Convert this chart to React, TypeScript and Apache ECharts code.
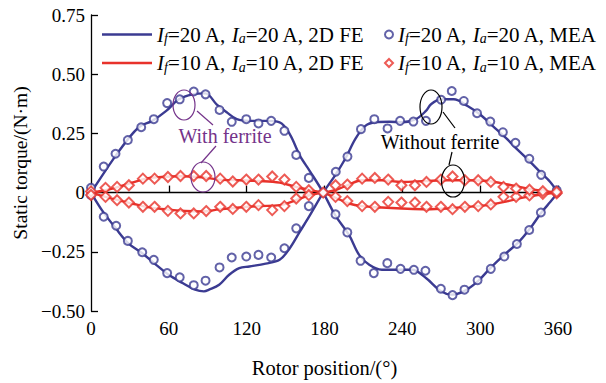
import React, { useEffect, useRef } from "react";
import * as echarts from "echarts";

// ---- Data ----
// 2D FE, If=20 A, Ia=20 A: curve positive on 0-180, negative on 180-360
const feA20Deg = [0, 11.3, 21, 31.7, 38.5, 47.2, 58, 67.7, 78.4, 88.1, 96.8, 104.6, 112.4, 122.1, 134.7, 145.4, 153.2, 161, 168.8, 179, 188.2, 198.9, 206.7, 214.5, 224.2, 237.8, 247.5, 258.2, 269.9, 277.7, 287.4, 298.1, 307.8, 318.5, 329.5, 338, 347.5, 354, 360];
const feA20Val = [0, 0.094, 0.171, 0.247, 0.282, 0.303, 0.345, 0.394, 0.415, 0.419, 0.373, 0.339, 0.31, 0.303, 0.303, 0.297, 0.247, 0.156, 0.09, 0, -0.095, -0.179, -0.263, -0.305, -0.326, -0.326, -0.326, -0.361, -0.417, -0.431, -0.417, -0.375, -0.319, -0.263, -0.21, -0.155, -0.082, -0.04, 0];
// 2D FE, If=20 A, Ia=20 A: curve negative on 0-180, positive on 180-360
const feB20Deg = [0, 8.4, 19.1, 28.8, 39.5, 50.2, 59.9, 70.6, 80.3, 87.1, 91, 98.8, 106.5, 114.3, 122.1, 134.7, 145.4, 153.2, 161, 168.8, 179, 188.2, 196, 203.8, 211.5, 219.3, 230, 239.7, 250.4, 258.2, 262.1, 269.9, 279.6, 290.3, 300, 310, 320, 329, 338, 347.5, 354, 360];
const feB20Val = [0, -0.074, -0.151, -0.214, -0.256, -0.305, -0.347, -0.382, -0.41, -0.417, -0.41, -0.389, -0.347, -0.319, -0.312, -0.3, -0.284, -0.235, -0.165, -0.095, 0, 0.073, 0.143, 0.227, 0.282, 0.297, 0.299, 0.297, 0.31, 0.345, 0.373, 0.394, 0.394, 0.366, 0.33, 0.28, 0.23, 0.18, 0.133, 0.08, 0.045, 0];

// MEA, If=20 A, Ia=20 A
const meaA20Deg = [0, 9.8, 18.9, 28.4, 38.7, 48.4, 58.7, 68.4, 79.2, 88.3, 99.1, 108.5, 119.7, 129.1, 138.9, 149.1, 158.2, 167.9, 179, 188.5, 197.6, 207.8, 218, 228.4, 238.6, 248.9, 257.8, 269.7, 278.7, 287.9, 298, 308.2, 318.6, 328.3, 337.8, 346.8, 359];
const meaA20Val = [0.02, 0.11, 0.164, 0.222, 0.276, 0.31, 0.378, 0.394, 0.427, 0.415, 0.349, 0.299, 0.31, 0.292, 0.303, 0.261, 0.159, 0.062, 0, -0.092, -0.168, -0.288, -0.34, -0.298, -0.322, -0.326, -0.33, -0.406, -0.433, -0.41, -0.37, -0.322, -0.27, -0.217, -0.158, -0.084, 0];
const meaB20Deg = [0, 9.8, 19.4, 28.4, 39.5, 48.4, 58.7, 68.4, 79.2, 88.3, 99.1, 108.5, 119.7, 129.1, 138.9, 149.1, 158.2, 167.9, 188.7, 197.7, 208.1, 218.4, 228.6, 238.3, 248.5, 258.2, 269.9, 278.1, 287.4, 297.6, 307.8, 317.5, 327.2, 337.9, 347, 359];
const meaB20Val = [-0.01, -0.102, -0.14, -0.204, -0.252, -0.284, -0.34, -0.358, -0.391, -0.372, -0.316, -0.274, -0.27, -0.263, -0.274, -0.235, -0.151, -0.057, 0.088, 0.152, 0.268, 0.31, 0.271, 0.303, 0.3, 0.303, 0.392, 0.429, 0.387, 0.335, 0.3, 0.255, 0.21, 0.143, 0.075, 0.01];

// 2D FE, If=10 A, Ia=10 A
const feC10Deg = [0, 11.3, 21, 31.7, 42.4, 52.1, 67.7, 85.2, 98.8, 114.3, 129.9, 145.4, 158.1, 168.8, 179, 188.2, 198.9, 208.6, 224.2, 239.7, 258.2, 274.7, 290.3, 305.8, 321.4, 334, 347, 360];
const feC10Val = [0, 0.01, 0.024, 0.042, 0.059, 0.065, 0.069, 0.065, 0.055, 0.052, 0.049, 0.042, 0.024, 0.01, 0, -0.021, -0.046, -0.057, -0.063, -0.067, -0.07, -0.067, -0.06, -0.053, -0.036, -0.02, -0.008, 0];
const feD10Deg = [0, 11.3, 21, 31.7, 42.4, 58, 72.5, 86.1, 98.8, 114.3, 129.9, 145.4, 158.1, 168.8, 179, 188.2, 198.9, 208.6, 224.2, 239.7, 258.2, 274.7, 290.3, 305.8, 321.4, 334, 347, 360];
const feD10Val = [0, -0.018, -0.032, -0.046, -0.06, -0.071, -0.078, -0.08, -0.071, -0.063, -0.057, -0.053, -0.032, -0.011, 0, 0.01, 0.034, 0.052, 0.052, 0.045, 0.049, 0.052, 0.052, 0.049, 0.034, 0.02, 0.008, 0];

// MEA, If=10 A, Ia=10 A
const meaC10Deg = [0, 11.2, 20.1, 29.2, 40, 49, 59.3, 69, 79.2, 88.8, 99.6, 109.3, 119.7, 129.1, 139.7, 149.1, 158.2, 167.9, 179, 188.5, 197.6, 209, 218.8, 229.1, 239.3, 249.7, 258.6, 269.7, 278.7, 288.2, 298.5, 308.2, 318, 327.7, 338, 348.3, 359];
const meaC10Val = [0.005, 0.02, 0.024, 0.031, 0.059, 0.059, 0.066, 0.07, 0.07, 0.07, 0.059, 0.047, 0.055, 0.055, 0.068, 0.055, 0.024, 0.01, 0, -0.018, -0.036, -0.057, -0.06, -0.039, -0.042, -0.042, -0.06, -0.06, -0.07, -0.06, -0.057, -0.05, -0.018, -0.018, -0.012, -0.005, -0.003];
const meaD10Deg = [0, 11.2, 20.1, 29.2, 40, 49, 59.3, 69, 79.2, 88.8, 99.6, 109.3, 119.7, 129.1, 139.7, 149.1, 158.2, 167.9, 188.5, 197.6, 209, 218.8, 229.1, 239.3, 249.7, 258.6, 269.7, 278.7, 288.2, 298.5, 308.2, 318, 327.7, 338, 348.3, 359];
const meaD10Val = [-0.01, -0.018, -0.032, -0.042, -0.06, -0.06, -0.077, -0.088, -0.088, -0.078, -0.06, -0.069, -0.06, -0.053, -0.074, -0.057, -0.025, -0.011, 0.031, 0.034, 0.059, 0.062, 0.055, 0.031, 0.031, 0.045, 0.055, 0.068, 0.052, 0.052, 0.045, 0.024, 0.017, 0.012, 0.006, 0.003];

const xTicks = [0, 60, 120, 180, 240, 300, 360];
const yTickLabels: Record<string, string> = {
  "0.75": "0.75",
  "0.5": "0.50",
  "0.25": "0.25",
  "0": "0",
  "-0.25": "\u22120.25",
  "-0.5": "\u22120.50",
};

const NAME_FE20 = "fe20";
const NAME_MEA20 = "mea20";
const NAME_FE10 = "fe10";
const NAME_MEA10 = "mea10";
const legendLabels: Record<string, string> = {
  [NAME_FE20]: "{i|I}{s|f}=20 A, {i|I}{s|a}=20 A, 2D FE",
  [NAME_MEA20]: "{i|I}{s|f}=20 A, {i|I}{s|a}=20 A, MEA",
  [NAME_FE10]: "{i|I}{s|f}=10 A, {i|I}{s|a}=10 A, 2D FE",
  [NAME_MEA10]: "{i|I}{s|f}=10 A, {i|I}{s|a}=10 A, MEA",
};

const zip = (xs: number[], ys: number[]) => xs.map((x, i) => [x, ys[i]]);

const BLUE = "#3b3b92";
const RED = "#e8322b";
const PURPLE = "#74338a";
const FONT = "Liberation Serif";

export default function App() {
  const ref = useRef<HTMLDivElement>(null);
  useEffect(() => {
    if (!ref.current) return;
    const chart = echarts.init(ref.current, undefined, { renderer: "svg" });
    const lineSeries = (name: string, xs: number[], ys: number[], color: string) => ({
      type: "line",
      name,
      data: zip(xs, ys),
      smooth: 0.35,
      symbol: "none",
      lineStyle: { color, width: 2.4 },
      itemStyle: { color },
      z: 2,
    });
    const scatterSeries = (name: string, xs: number[], ys: number[], color: string, symbol: string, size: number) => ({
      type: "scatter",
      name,
      data: zip(xs, ys),
      symbol,
      symbolSize: size,
      itemStyle: { color, borderWidth: 1.3 },
      z: 3,
    });
    const richLegend = {
      i: { fontFamily: FONT, fontStyle: "italic", fontSize: 21, color: "#000" },
      s: { fontFamily: FONT, fontStyle: "italic", fontSize: 14, color: "#000", verticalAlign: "bottom", padding: [8, 0, 0, 0] },
    };
    const legendBase = {
      orient: "vertical",
      itemGap: 7,
      textStyle: { fontFamily: FONT, fontSize: 21, color: "#000", rich: richLegend },
      formatter: (n: string) => legendLabels[n],
      selectedMode: false,
    };
    const axisLabelStyle = { fontFamily: FONT, fontSize: 19, color: "#000" };
    chart.setOption({
      animation: false,
      backgroundColor: "#fff",
      grid: { left: 91, right: 48, top: 15, bottom: 69, containLabel: false },
      legend: [
        {
          ...legendBase,
          left: 97,
          top: 19,
          itemWidth: 50,
          itemHeight: 2.4,
          data: [
            { name: NAME_FE20, icon: "rect" },
            { name: NAME_FE10, icon: "rect" },
          ],
        },
        {
          ...legendBase,
          left: 379,
          top: 19,
          itemWidth: 8,
          itemHeight: 8,
          data: [NAME_MEA20, NAME_MEA10],
        },
      ],
      xAxis: {
        type: "value",
        min: 0,
        max: 360,
        interval: 60,
        name: "Rotor position/(\u00b0)",
        nameLocation: "middle",
        nameGap: 46,
        nameTextStyle: { fontFamily: FONT, fontSize: 20.5, color: "#000" },
        axisLine: { show: true, lineStyle: { color: "#000", width: 1.3 } },
        axisTick: { show: true, inside: true, length: 7, lineStyle: { color: "#000", width: 1.3 } },
        axisLabel: { ...axisLabelStyle, margin: 8, formatter: (v: number) => (xTicks.includes(v) ? String(v) : "") },
        splitLine: { show: false },
      },
      yAxis: {
        type: "value",
        min: -0.5,
        max: 0.75,
        interval: 0.25,
        name: "Static torque/(N\u00b7m)",
        nameLocation: "middle",
        nameGap: 51,
        nameTextStyle: { fontFamily: FONT, fontSize: 19.5, color: "#000" },
        axisLine: { show: true, lineStyle: { color: "#000", width: 1.3 } },
        axisTick: { show: true, inside: true, length: 7, lineStyle: { color: "#000", width: 1.3 } },
        axisLabel: { ...axisLabelStyle, margin: 6, formatter: (v: number) => yTickLabels[String(v)] ?? String(v) },
        splitLine: { show: false },
      },
      series: [
        lineSeries(NAME_FE20, feA20Deg, feA20Val, BLUE),
        lineSeries(NAME_FE20, feB20Deg, feB20Val, BLUE),
        lineSeries(NAME_FE10, feC10Deg, feC10Val, RED),
        lineSeries(NAME_FE10, feD10Deg, feD10Val, RED),
        scatterSeries(NAME_MEA20, meaA20Deg, meaA20Val, BLUE, "emptyCircle", 8),
        scatterSeries(NAME_MEA20, meaB20Deg, meaB20Val, BLUE, "emptyCircle", 8),
        scatterSeries(NAME_MEA10, meaC10Deg, meaC10Val, RED, "emptyDiamond", 10),
        scatterSeries(NAME_MEA10, meaD10Deg, meaD10Val, RED, "emptyDiamond", 10),
      ],
      graphic: [
        { type: "ellipse", shape: { cx: 184, cy: 105, rx: 11, ry: 15 }, style: { fill: "none", stroke: PURPLE, lineWidth: 1.2 }, z: 10 },
        { type: "line", shape: { x1: 197, y1: 111, x2: 213, y2: 125 }, style: { stroke: PURPLE, lineWidth: 1.2 }, z: 10 },
        { type: "ellipse", shape: { cx: 203, cy: 177, rx: 12, ry: 15 }, style: { fill: "none", stroke: PURPLE, lineWidth: 1.2 }, z: 10 },
        { type: "line", shape: { x1: 216, y1: 146, x2: 201, y2: 163 }, style: { stroke: PURPLE, lineWidth: 1.2 }, z: 10 },
        { type: "text", x: 225, y: 136, style: { text: "With ferrite", font: `20px "${FONT}"`, fill: PURPLE, align: "center", verticalAlign: "middle" }, z: 10 },
        { type: "ellipse", shape: { cx: 431, cy: 107, rx: 11, ry: 17 }, style: { fill: "none", stroke: "#000", lineWidth: 1.2 }, z: 10 },
        { type: "line", shape: { x1: 443, y1: 112, x2: 455, y2: 128 }, style: { stroke: "#000", lineWidth: 1.2 }, z: 10 },
        { type: "ellipse", shape: { cx: 453, cy: 181, rx: 11.5, ry: 16 }, style: { fill: "none", stroke: "#000", lineWidth: 1.2 }, z: 10 },
        { type: "line", shape: { x1: 452, y1: 152, x2: 449, y2: 165 }, style: { stroke: "#000", lineWidth: 1.2 }, z: 10 },
        { type: "text", x: 440, y: 142, style: { text: "Without ferrite", font: `20px "${FONT}"`, fill: "#000", align: "center", verticalAlign: "middle" }, z: 10 },
      ],
    });
    return () => chart.dispose();
  }, []);
  return <div ref={ref} style={{ position: "fixed", left: 0, top: 0, width: 606, height: 383 }} />;
}
